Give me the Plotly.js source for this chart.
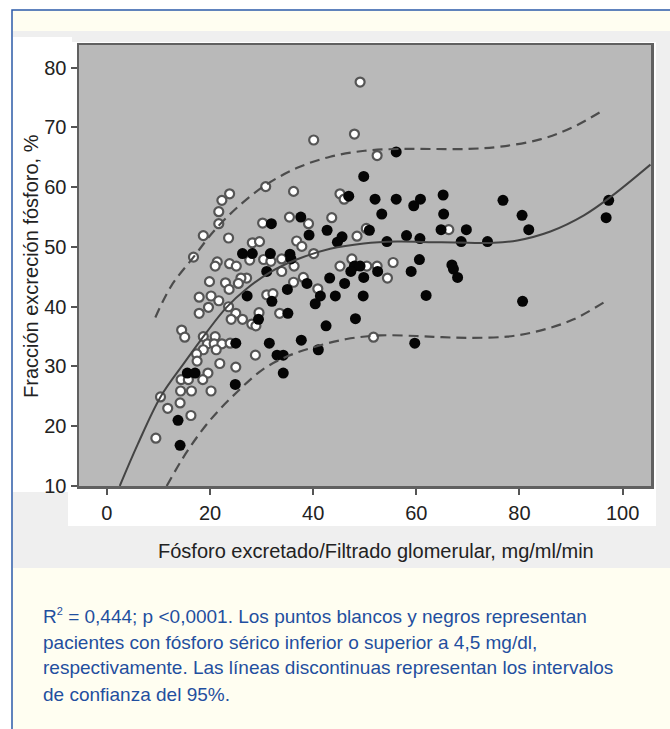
<!DOCTYPE html>
<html>
<head>
<meta charset="utf-8">
<script src="https://cdn.plot.ly/plotly-3.0.1.min.js"></script>
<style>
html,body{margin:0;padding:0;background:#ffffff;}
#chart{width:670px;height:729px;}
</style>
</head>
<body>
<div id="chart"></div>
<script>
// ---- Data ----
// Open circles: serum phosphorus < 4.5 mg/dl
const openX = [49.1,40.1,48.0,52.4,30.8,36.2,23.8,45.2,46.0,22.3,21.7,35.4,43.6,21.7,30.2,39.1,18.7,23.6,48.5,28.2,
  29.6,36.8,37.8,16.8,40.1,21.4,21.0,23.8,25.1,27.7,30.4,31.8,33.9,36.3,33.9,45.2,47.5,50.4,52.4,55.5,
  54.4,38.1,36.2,27.1,26.0,25.5,23.0,23.7,19.9,31.0,32.2,40.9,17.9,20.2,21.7,19.7,17.9,23.6,25.0,24.1,
  26.3,29.5,28.1,28.9,33.5,14.5,15.1,18.7,21.0,19.5,20.8,22.3,23.9,18.7,21.2,17.4,17.5,21.9,25.0,28.8,
  19.6,14.4,15.8,18.6,14.3,16.4,20.2,10.4,11.8,14.2,16.3,9.5,51.7,66.3,50.3];
const openY = [77.6,67.9,68.9,65.3,60.1,59.3,58.9,58.9,58.0,57.8,55.9,55.0,54.9,53.9,54.0,53.9,51.9,51.5,51.8,50.7,
  50.9,51.0,50.1,48.3,48.9,47.5,46.8,47.2,46.8,47.8,47.9,47.6,48.0,46.8,45.9,46.8,48.0,46.8,46.8,47.4,
  44.8,44.9,44.1,44.8,44.8,43.9,44.0,42.9,44.2,42.0,42.2,43.0,41.6,41.8,41.0,39.9,38.9,40.0,38.9,37.9,
  37.9,39.0,37.1,36.8,38.9,36.1,34.9,35.0,35.0,33.8,33.8,33.8,33.9,32.8,32.8,32.1,30.9,30.5,29.9,31.9,
  28.9,27.8,27.8,27.8,25.9,25.9,25.9,24.9,23.0,23.9,21.8,18.0,34.9,52.9,53.1];

// Filled circles: serum phosphorus > 4.5 mg/dl
const filledX = [56.1,49.8,46.9,52.0,56.1,60.8,59.5,65.2,76.8,97.3,53.3,37.6,65.3,80.5,96.8,31.9,42.7,50.9,64.8,69.7,
  81.8,39.2,45.6,44.7,58.1,60.7,54.3,68.7,73.8,26.3,28.2,31.7,35.5,35.7,48.0,49.1,47.3,52.5,59.0,60.6,
  66.9,67.2,68.0,31.0,49.8,43.2,46.1,38.8,35.0,27.2,32.0,41.4,44.3,49.7,61.9,80.6,40.4,29.4,35.1,48.2,
  42.5,25.0,31.5,37.7,41.0,59.7,33.0,34.2,34.2,24.9,15.6,17.1,13.8,14.2];
const filledY = [65.9,61.8,58.5,58.0,58.0,58.0,56.9,58.7,57.8,57.8,55.5,55.0,55.5,55.3,54.9,53.9,52.8,52.8,52.9,52.9,
  52.9,52.0,51.7,50.8,51.9,51.4,50.9,50.9,50.9,48.9,48.9,48.9,48.8,48.0,46.8,46.8,45.9,45.9,45.9,47.9,
  47.0,46.3,44.9,45.9,44.9,44.8,43.9,43.9,42.9,41.8,40.9,41.8,41.8,41.8,41.9,40.9,40.5,37.9,38.9,38.0,
  36.8,33.9,33.9,34.4,32.8,33.9,31.9,31.9,28.9,27.0,28.9,28.9,21.0,16.8];

// Fitted curve and 95% confidence limits
const fitX = [2.5,6,10.4,15,19.4,23.2,27.1,31.7,36.8,43.3,49.8,56.3,63.4,70,75,79.6,86,92.5,97.7,105.4];
const fitY = [10,17,24.9,30.6,35.8,39.9,43.0,45.8,47.9,49.7,50.6,50.9,50.8,50.7,50.7,51.1,52.6,55.3,58.4,63.8];
const upperX = [9.4,12.5,16.8,20.6,25,30.5,36.8,43.3,50,56.5,63,70,76.3,84,90,96.3];
const upperY = [38.2,43.5,48.3,52.5,56.4,60.2,63.2,65.1,66.1,66.4,66.4,66.4,66.8,68.0,69.9,72.9];
const lowerX = [11.6,15.5,20,25.2,30.4,35,40,46.5,53,60,65,70,77.6,84,90.5,96.7];
const lowerY = [10,15.7,21,25.7,29.6,31.7,33.2,34.6,35.2,35.1,34.9,34.8,35.0,36.0,37.9,40.9];

const xTicks = [0,20,40,60,80,100];
const yTicks = [10,20,30,40,50,60,70,80];
const xTitle = 'Fósforo excretado/Filtrado glomerular, mg/ml/min';
const yTitle = 'Fracción excreción fósforo, %';
const captionLines = [
  'R<sup><span style="font-size:11px">2</span></sup> = 0,444; p &lt;0,0001. Los puntos blancos y negros representan',
  'pacientes con fósforo sérico inferior o superior a 4,5 mg/dl,',
  'respectivamente. Las líneas discontinuas representan los intervalos',
  'de confianza del 95%.'
];

// ---- Layout geometry (pixels) ----
const W = 670, H = 729;
const L = 79, R = 651, T = 45, B = 486;
const px = p => (p - L) / (R - L);
const py = p => (B - p) / (B - T);
const FONT = '"Liberation Sans", Arial, sans-serif';

function rect(x0, y0, x1, y1, fill, line) {
  return {type:'rect', xref:'paper', yref:'paper', layer:'below',
    x0:px(x0), x1:px(x1), y0:py(y1), y1:py(y0),
    fillcolor:fill, line: line || {width:0}};
}

const traces = [
  {x:openX, y:openY, type:'scatter', mode:'markers', hoverinfo:'skip',
   marker:{symbol:'circle', size:9, color:'#ffffff', line:{color:'#555555', width:2.2}}},
  {x:filledX, y:filledY, type:'scatter', mode:'markers', hoverinfo:'skip',
   marker:{symbol:'circle', size:11, color:'#050505', line:{width:0}}},
  {x:fitX, y:fitY, type:'scatter', mode:'lines', hoverinfo:'skip',
   line:{color:'#444444', width:2, shape:'spline'}},
  {x:upperX, y:upperY, type:'scatter', mode:'lines', hoverinfo:'skip',
   line:{color:'#4c4c4c', width:2.2, shape:'spline', dash:'10px,6px'}},
  {x:lowerX, y:lowerY, type:'scatter', mode:'lines', hoverinfo:'skip',
   line:{color:'#4c4c4c', width:2.2, shape:'spline', dash:'10px,6px'}}
];

const annotations = [
  {text:yTitle, xref:'paper', yref:'paper', x:px(31), y:py(266), textangle:-90,
   showarrow:false, xanchor:'center', yanchor:'middle',
   font:{family:FONT, size:20, color:'#222222'}},
  {text:xTitle, xref:'paper', yref:'paper', x:px(376), y:py(551),
   showarrow:false, xanchor:'center', yanchor:'middle',
   font:{family:FONT, size:20, color:'#222222'}}
];
const capY = [616, 642, 668, 694];
captionLines.forEach((t, i) => {
  annotations.push({text:t, xref:'paper', yref:'paper', x:px(41), y:py(capY[i]),
    showarrow:false, xanchor:'left', yanchor:'middle', align:'left',
    font:{family:FONT, size:19, color:'#1f4f9f'}});
});

const layout = {
  width:W, height:H,
  margin:{l:L, r:W-R, t:T, b:H-B, pad:0},
  paper_bgcolor:'#ffffff',
  plot_bgcolor:'rgba(0,0,0,0)',
  showlegend:false,
  xaxis:{range:[-5.4,105.5], tickmode:'array', tickvals:xTicks, ticktext:xTicks.map(String),
    ticks:'outside', ticklen:6, tickwidth:2, tickcolor:'#555555',
    showline:true, mirror:true, linecolor:'#606060', linewidth:2.5,
    showgrid:false, zeroline:false, ticklabelstandoff:1,
    tickfont:{family:FONT, size:20, color:'#222222'}},
  yaxis:{range:[10,83.8], tickmode:'array', tickvals:yTicks, ticktext:yTicks.map(String),
    ticks:'outside', ticklen:6, tickwidth:2, tickcolor:'#555555',
    showline:true, mirror:true, linecolor:'#606060', linewidth:2.5,
    showgrid:false, zeroline:false,
    tickfont:{family:FONT, size:20, color:'#222222'}},
  shapes:[
    rect(12, 10, 700, 760, '#fffef1', {color:'#2c5ba9', width:1.5}),
    rect(13, 31, 671, 568, '#efefef'),
    rect(13, 37, 72, 492, '#ffffff'),
    rect(68, 42, 656, 526, '#ffffff'),
    rect(L, T, R, B, '#b9b9b9')
  ],
  annotations:annotations
};

Plotly.newPlot('chart', traces, layout, {displayModeBar:false, staticPlot:true});
</script>
</body>
</html>
